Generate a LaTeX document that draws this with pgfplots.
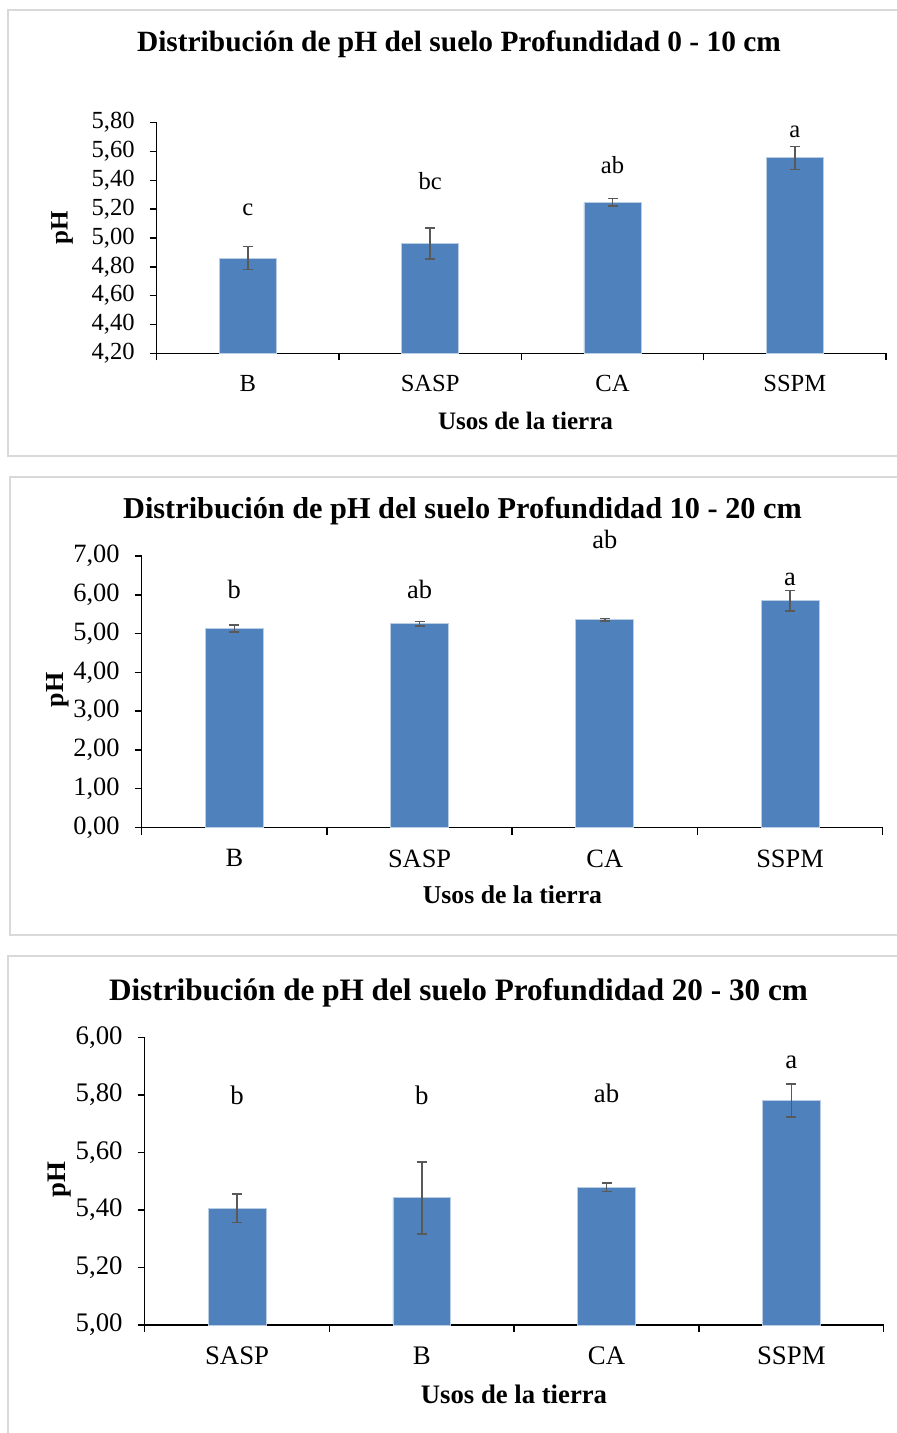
\documentclass[border=0pt]{standalone}
\usepackage{fontspec}
\setmainfont{Liberation Serif}
\usepackage{pgfplots}
\pgfplotsset{compat=1.18}
\usepackage{pgfplotstable}

\definecolor{barblue}{HTML}{4F81BD}
\definecolor{baredge}{HTML}{B9CDE5}
\definecolor{errgray}{HTML}{595959}
\definecolor{framegray}{HTML}{D9D9D9}

\pgfplotstableread{
x y e
0.5 4.861 0.081
1.5 4.962 0.107
2.5 5.247 0.026
3.5 5.556 0.079
}\tabA
\pgfplotstableread{
x y e
0.5 5.133 0.09
1.5 5.254 0.055
2.5 5.357 0.03
3.5 5.847 0.265
}\tabB
\pgfplotstableread{
x y e
0.5 5.406 0.049
1.5 5.442 0.125
2.5 5.479 0.0145
3.5 5.781 0.0575
}\tabC

\pgfplotsset{
  phbar/.style={
    scale only axis,
    anchor=south west,
    axis lines=left,
    axis line style={-, line width=0.75pt, black},
    xmin=0, xmax=4,
    xtick={0,1,2,3,4},
    xticklabels={},
    extra x ticks={0.5,1.5,2.5,3.5},
    extra x tick style={major tick length=0pt},
    xticklabel style={yshift=-7.5pt},
    tick align=outside,
    major tick length=3.5pt,
    tick style={line width=0.75pt, black},
    clip mode=individual,
    yticklabel style={xshift=-4pt, /pgf/number format/.cd, fixed, fixed zerofill, precision=2, use comma, assume math mode=true},
  },
  phplot/.style={
    ybar, bar width=0.313, fill=barblue, draw=baredge, line width=0.4pt,
    error bars/.cd, y dir=both, y explicit,
    error bar style={line width=0.75pt, errgray},
    error mark options={rotate=90, mark size=2.5pt, line width=0.75pt, errgray},
  },
}

\begin{document}
\begin{tikzpicture}
\begin{scope}[x=0.5pt,y=-0.5pt]
\useasboundingbox (0,0) rectangle (897,1433);
\clip (0,0) rectangle (897,1433);
\draw[framegray, line width=0.75pt] (8,10) rectangle (905,456);
\draw[framegray, line width=0.75pt] (10,477) rectangle (905,935);
\draw[framegray, line width=0.75pt] (8,956) rectangle (905,1440);
\end{scope}

% Panel 1
\begin{axis}[phbar,
  at={(78.35pt,-176.65pt)}, width=364.65pt, height=115.3pt,
  ymin=4.2, ymax=5.8, ytick={4.2,4.4,4.6,4.8,5.0,5.2,5.4,5.6,5.8},
  extra x tick labels={B,SASP,CA,SSPM},
  tick label style={font=\fontsize{12.3}{14}\selectfont},
]
\addplot[phplot] table[x=x,y=y,y error=e]{\tabA};
\node[anchor=base, font=\fontsize{12.3}{14}\selectfont] at (axis cs:0.5,5.156) {c};
\node[anchor=base, font=\fontsize{12.3}{14}\selectfont] at (axis cs:1.5,5.334) {bc};
\node[anchor=base, font=\fontsize{12.3}{14}\selectfont] at (axis cs:2.5,5.449) {ab};
\node[anchor=base, font=\fontsize{12.3}{14}\selectfont] at (axis cs:3.5,5.694) {a};
\end{axis}

% Panel 2
\begin{axis}[phbar,
  at={(70.85pt,-413.75pt)}, width=370.5pt, height=135.75pt,
  ymin=0, ymax=7, ytick={0,1,2,3,4,5,6,7},
  extra x tick labels={B,SASP,CA,SSPM},
  tick label style={font=\fontsize{13.2}{15}\selectfont},
]
\addplot[phplot] table[x=x,y=y,y error=e]{\tabB};
\node[anchor=base, font=\fontsize{13.2}{15}\selectfont] at (axis cs:0.5,5.908) {b};
\node[anchor=base, font=\fontsize{13.2}{15}\selectfont] at (axis cs:1.5,5.908) {ab};
\node[anchor=base, font=\fontsize{13.2}{15}\selectfont] at (axis cs:2.5,7.198) {ab};
\node[anchor=base, font=\fontsize{13.2}{15}\selectfont] at (axis cs:3.5,6.25) {a};
\end{axis}

% Panel 3
\begin{axis}[phbar,
  at={(72.35pt,-662.5pt)}, width=369.5pt, height=143.85pt,
  ymin=5, ymax=6, ytick={5.0,5.2,5.4,5.6,5.8,6.0},
  extra x tick labels={SASP,B,CA,SSPM},
  tick label style={font=\fontsize{13.4}{15}\selectfont},
]
\addplot[phplot] table[x=x,y=y,y error=e]{\tabC};
\node[anchor=base, font=\fontsize{13.4}{15}\selectfont] at (axis cs:0.5,5.765) {b};
\node[anchor=base, font=\fontsize{13.4}{15}\selectfont] at (axis cs:1.5,5.765) {b};
\node[anchor=base, font=\fontsize{13.4}{15}\selectfont] at (axis cs:2.5,5.773) {ab};
\node[anchor=base, font=\fontsize{13.4}{15}\selectfont] at (axis cs:3.5,5.892) {a};
\end{axis}

\begin{scope}[x=0.5pt,y=-0.5pt]
\node[font=\bfseries\fontsize{14.7}{17}\selectfont] at (459,44) {Distribución de pH del suelo Profundidad 0 - 10 cm};
\node[font=\bfseries\fontsize{15.15}{18}\selectfont] at (462.5,511) {Distribución de pH del suelo Profundidad 10 - 20 cm};
\node[font=\bfseries\fontsize{15.6}{18}\selectfont] at (458.5,993) {Distribución de pH del suelo Profundidad 20 - 30 cm};
\node[font=\bfseries\fontsize{12.55}{15}\selectfont] at (525.5,421) {Usos de la tierra};
\node[font=\bfseries\fontsize{12.85}{15}\selectfont] at (512.5,895) {Usos de la tierra};
\node[font=\bfseries\fontsize{13.35}{16}\selectfont] at (514,1394) {Usos de la tierra};
\node[rotate=90, font=\bfseries\fontsize{12.5}{15}\selectfont] at (62,228) {pH};
\node[rotate=90, font=\bfseries\fontsize{13}{15}\selectfont] at (58,690) {pH};
\node[rotate=90, font=\bfseries\fontsize{13.4}{16}\selectfont] at (60,1180) {pH};
\end{scope}
\end{tikzpicture}
\end{document}
